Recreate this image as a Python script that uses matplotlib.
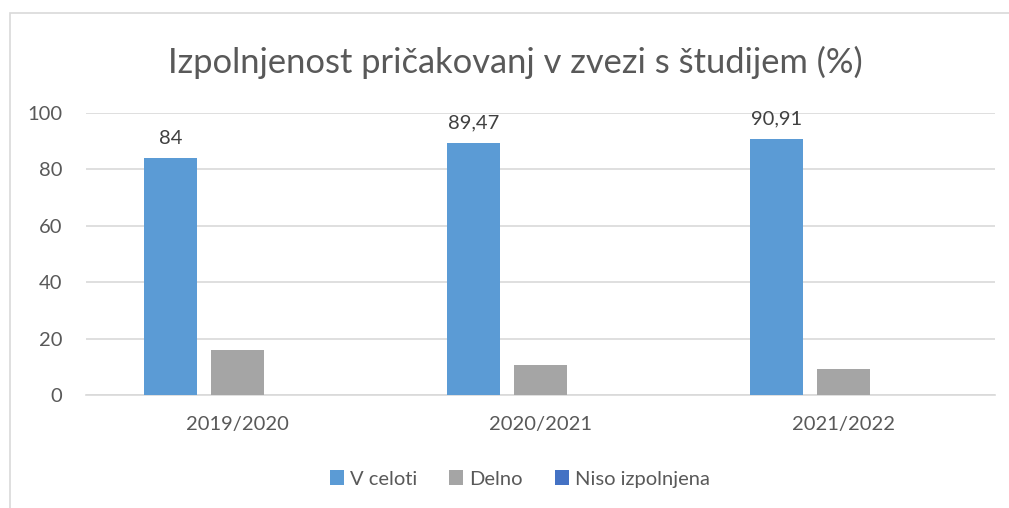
import numpy as np
import matplotlib.pyplot as plt
from matplotlib.patches import Rectangle

plt.rcParams['font.family'] = ['Lato', 'DejaVu Sans']

# data
years = ['2019/2020', '2020/2021', '2021/2022']
v_celoti = [84, 89.47, 90.91]
delno = [16, 10.53, 9.09]
niso = [0, 0, 0]
series_names = ['V celoti', 'Delno', 'Niso izpolnjena']
colors = ['#5B9BD5', '#A5A5A5', '#4472C4']
txt = '#595959'

fig = plt.figure(figsize=(10.09, 5.08), dpi=100)
# chart frame (cut off on the right and bottom like the original)
fig.patches.append(Rectangle((10/1009, -0.1), 1.2, (508-13)/508 + 0.1,
                             transform=fig.transFigure, fill=False,
                             edgecolor='#D9D9D9', lw=1.2))

ax = fig.add_axes([86/1009, 113/508, 909/1009, 282/508])

x = np.arange(len(years))
w = 0.175
step = 0.221
for k, vals in enumerate([v_celoti, delno, niso]):
    bars = ax.bar(x + (k-1)*step, vals, w, color=colors[k], label=series_names[k], zorder=3)
    if k == 0:
        for b, v in zip(bars, vals):
            lab = ('%g' % v).replace('.', ',')
            ax.annotate(lab, (b.get_x() + b.get_width()/2, v), xytext=(0, 8),
                        textcoords='offset points', ha='center', va='bottom',
                        fontsize=14.5, color='#404040')

ax.set_xlim(-0.5, 2.5)
ax.set_ylim(0, 100)
ax.set_yticks(range(0, 101, 20))
ax.set_xticks(x)
ax.set_xticklabels(years)
ax.yaxis.grid(True, color='#D9D9D9', lw=1.2, zorder=0)
for s in ['top', 'right', 'left']:
    ax.spines[s].set_visible(False)
ax.spines['bottom'].set_color('#D9D9D9')
ax.spines['bottom'].set_linewidth(1.2)
ax.tick_params(axis='both', length=0, labelsize=14.5, colors=txt)
ax.tick_params(axis='y', pad=17)
ax.tick_params(axis='x', pad=15)

fig.text(515/1009, 1 - 62/508, 'Izpolnjenost pričakovanj v zvezi s študijem (%)',
         ha='center', va='center', fontsize=24.8, color=txt)

leg = fig.legend(loc='center', bbox_to_anchor=(520/1009, 1 - 479/508), ncol=3,
                 frameon=False, fontsize=14.5, handlelength=0.7, handleheight=0.7,
                 handletextpad=0.3, columnspacing=1.6)
for t in leg.get_texts():
    t.set_color(txt)

fig.savefig('out.png', dpi=100)
